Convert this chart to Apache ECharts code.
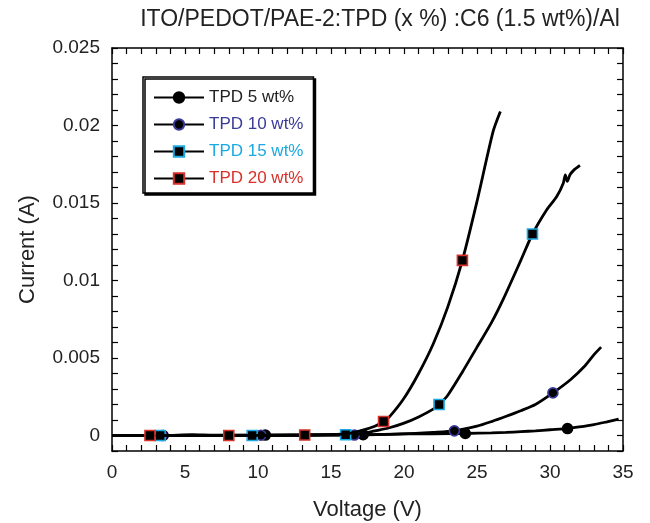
<!DOCTYPE html>
<html>
<head>
<meta charset="utf-8">
<script src="https://cdn.jsdelivr.net/npm/echarts@6/dist/echarts.min.js"></script>
<style>
  html, body { margin: 0; padding: 0; background: #fff; }
  #chart { width: 650px; height: 523px; }
</style>
</head>
<body>
<div id="chart"></div>
<script>
// TPD 5 wt%
const volt5 = [0, 3.5, 5.5, 7, 10.5, 14, 17.2, 20, 22, 24.2, 26, 27, 28, 29, 30, 31.2, 32, 33, 33.9, 34.7]
const curr5 = [0, 0, 0.00006, 0.00003, 0.00003, 0.00004, 0.00005, 0.0001, 0.00011, 0.00013, 0.00017, 0.0002, 0.00025, 0.0003, 0.00037, 0.00045, 0.00055, 0.0007, 0.00088, 0.00105]
const marks5 = [3.5, 10.5, 17.2, 24.2, 31.2]
// TPD 10 wt%
const volt10 = [0, 3.4, 10.2, 16.6, 20, 22, 23.45, 25, 26, 27, 28, 29, 30.2, 31.4, 32.4, 33, 33.5]
const curr10 = [0, 0, 0.00002, 0.00003, 0.0001, 0.0002, 0.0003, 0.0006, 0.0009, 0.00124, 0.0016, 0.002, 0.00275, 0.0036, 0.0045, 0.0052, 0.0057]
const marks10 = [3.4, 10.2, 16.6, 23.45, 30.2]
// TPD 15 wt%
const volt15 = [3.3, 9.6, 16.0, 17, 18, 19, 20, 21, 22, 22.4, 23, 24, 25, 26, 26.8, 28, 28.8, 29.8, 30.45, 30.91, 31.05, 31.18, 31.37, 31.6, 32.05]
const curr15 = [0, 0, 0.00005, 0.0001, 0.0003, 0.0005, 0.0008, 0.0012, 0.0017, 0.002, 0.0026, 0.0041, 0.0057, 0.0073, 0.0088, 0.0113, 0.013, 0.0146, 0.0154, 0.01628, 0.01682, 0.01639, 0.01682, 0.01709, 0.01742]
const marks15 = [3.3, 9.6, 16.0, 22.4, 28.8]
// TPD 20 wt%
const volt20 = [2.6, 8.0, 13.2, 16, 17, 18, 18.6, 19, 20, 21, 22, 23, 24.0, 25, 26.1, 26.6]
const curr20 = [0, 0, 0.00003, 0.0001, 0.0003, 0.0006, 0.0009, 0.0012, 0.0024, 0.004, 0.0059, 0.0083, 0.0113, 0.0151, 0.0196, 0.0209]
const marks20 = [2.6, 8.0, 13.2, 18.6, 24.0]

const seriesNames = ['TPD 5 wt%', 'TPD 10 wt%', 'TPD 15 wt%', 'TPD 20 wt%']
const edgeColors = ['#000000', '#3a3a98', '#1ba9e1', '#d8312a']
const textColors = ['#222222', '#3a3a98', '#1ba9e1', '#d8312a']
const shapes = ['circle', 'circle', 'rect', 'rect']

const font = 'Liberation Sans, Arial, Helvetica, sans-serif'

function buildData (volts, currs, marks) {
  return volts.map((v, i) => ({
    value: [v, currs[i]],
    symbol: marks.indexOf(v) >= 0 ? undefined : 'none'
  }))
}

function makeSeries (idx, volts, currs, marks) {
  return {
    name: seriesNames[idx],
    type: 'line',
    xAxisIndex: 0,
    yAxisIndex: 0,
    smooth: 0.25,
    showSymbol: true,
    symbol: shapes[idx],
    symbolSize: 10,
    lineStyle: { color: '#000', width: 2.8 },
    itemStyle: { color: '#000', borderColor: edgeColors[idx], borderWidth: 1.6 },
    data: buildData(volts, currs, marks),
    z: 2 + idx
  }
}

function ticksEvery (unit, every) {
  return function (v) {
    const n = Math.round(v / unit)
    if (n % every !== 0) return ''
    return String(parseFloat((n * unit).toFixed(4)))
  }
}

function axisLine () {
  return { show: true, onZero: false, lineStyle: { color: '#000', width: 1.5 } }
}
function axisTick () {
  return { show: true, inside: true, length: 6, lineStyle: { color: '#000', width: 1.2 } }
}

const chart = echarts.init(document.getElementById('chart'))
chart.setOption({
  animation: false,
  backgroundColor: '#fff',
  title: {
    text: 'ITO/PEDOT/PAE-2:TPD (x %) :C6 (1.5 wt%)/Al',
    left: 375,
    top: 3,
    textAlign: 'center',
    textStyle: { fontFamily: font, fontSize: 23, fontWeight: 'normal', color: '#222' }
  },
  grid: { left: 112, top: 48, right: 27, bottom: 72, containLabel: false, outerBoundsMode: 'none' },
  legend: {
    orient: 'vertical',
    left: 143,
    top: 77,
    padding: [12, 10, 6, 10],
    itemWidth: 50,
    itemHeight: 13,
    itemGap: 10,
    itemTextGap: 7,
    backgroundColor: '#fff',
    borderColor: '#000',
    borderWidth: 1.5,
    shadowColor: '#000',
    shadowOffsetX: 2,
    shadowOffsetY: 2,
    shadowBlur: 0,
    selectedMode: false,
    textStyle: { fontFamily: font, fontSize: 17 },
    data: seriesNames.map((n, i) => ({ name: n, textStyle: { color: textColors[i] } }))
  },
  xAxis: [{
    type: 'value',
    position: 'bottom',
    min: 0,
    max: 35,
    interval: 1,
    splitLine: { show: false },
    axisLine: axisLine(),
    axisTick: axisTick(),
    axisLabel: { formatter: ticksEvery(1, 5), fontFamily: font, fontSize: 19, color: '#222', margin: 12 },
    name: 'Voltage (V)',
    nameLocation: 'middle',
    nameGap: 48,
    nameTextStyle: { fontFamily: font, fontSize: 22, color: '#222' }
  }, {
    type: 'value',
    position: 'top',
    min: 0,
    max: 35,
    interval: 1,
    splitLine: { show: false },
    axisLine: axisLine(),
    axisTick: axisTick(),
    axisLabel: { show: false }
  }],
  yAxis: [{
    type: 'value',
    position: 'left',
    min: -0.001,
    max: 0.025,
    interval: 0.001,
    splitLine: { show: false },
    axisLine: axisLine(),
    axisTick: axisTick(),
    axisLabel: { formatter: ticksEvery(0.001, 5), fontFamily: font, fontSize: 19, color: '#222', margin: 12 },
    name: 'Current (A)',
    nameLocation: 'middle',
    nameGap: 73,
    nameTextStyle: { fontFamily: font, fontSize: 22, color: '#222' }
  }, {
    type: 'value',
    position: 'right',
    min: -0.001,
    max: 0.025,
    interval: 0.001,
    splitLine: { show: false },
    axisLine: axisLine(),
    axisTick: axisTick(),
    axisLabel: { show: false }
  }],
  series: [
    makeSeries(0, volt5, curr5, marks5),
    makeSeries(1, volt10, curr10, marks10),
    makeSeries(2, volt15, curr15, marks15),
    makeSeries(3, volt20, curr20, marks20)
  ]
})
</script>
</body>
</html>
